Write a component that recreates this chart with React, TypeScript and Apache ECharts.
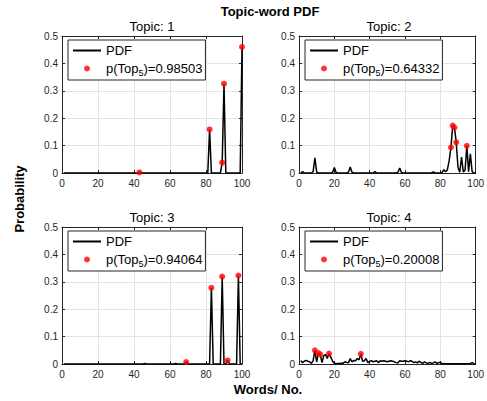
import { useEffect, useRef } from 'react';
import * as echarts from 'echarts';

// word numbers 1..100
const words: number[] = Array.from({ length: 100 }, (_, i) => i + 1);

const topic1: number[] = [
  0, 0, 0, 0, 0, 0, 0, 0, 0, 0,
  0, 0, 0, 0, 0, 0, 0, 0, 0, 0,
  0, 0, 0, 0, 0, 0, 0, 0, 0, 0,
  0, 0, 0, 0, 0, 0, 0, 0, 0, 0,
  0, 0, 0.002, 0, 0, 0, 0, 0, 0, 0,
  0, 0, 0, 0, 0, 0, 0, 0, 0, 0,
  0, 0, 0, 0, 0, 0, 0, 0, 0, 0,
  0, 0, 0, 0, 0, 0, 0, 0, 0, 0,
  0, 0.159, 0, 0, 0, 0, 0, 0, 0.038, 0.326,
  0, 0, 0, 0, 0, 0, 0, 0, 0, 0.46,
];

const topic2: number[] = [
  0, 0.005, 0, 0, 0, 0, 0, 0.005, 0.055, 0.003,
  0, 0, 0, 0, 0, 0, 0, 0, 0.002, 0.02,
  0.002, 0, 0, 0, 0, 0, 0, 0.003, 0.022, 0.003,
  0, 0, 0, 0, 0, 0, 0, 0, 0, 0,
  0, 0, 0.005, 0, 0, 0, 0, 0, 0, 0,
  0, 0, 0, 0, 0, 0.003, 0.018, 0.002, 0, 0,
  0, 0, 0, 0, 0, 0, 0, 0, 0, 0,
  0, 0, 0, 0, 0, 0.004, 0, 0, 0, 0,
  0.002, 0.012, 0.004, 0.012, 0.045, 0.093, 0.173, 0.166, 0.112, 0.02,
  0.003, 0.058, 0.004, 0.01, 0.099, 0.005, 0.07, 0.005, 0, 0,
];

const topic3: number[] = [
  0, 0, 0, 0, 0, 0, 0, 0, 0, 0,
  0, 0, 0, 0, 0, 0, 0, 0, 0, 0,
  0, 0, 0, 0, 0, 0, 0, 0, 0, 0,
  0, 0, 0, 0, 0, 0, 0, 0, 0, 0,
  0, 0, 0, 0, 0, 0.002, 0, 0, 0, 0,
  0, 0, 0, 0, 0, 0, 0, 0, 0, 0,
  0, 0, 0.002, 0, 0, 0, 0, 0, 0.007, 0,
  0, 0, 0, 0, 0, 0, 0, 0, 0, 0,
  0, 0, 0.278, 0, 0, 0, 0, 0, 0.319, 0,
  0, 0.013, 0, 0, 0, 0, 0, 0.323, 0, 0,
];

const topic4: number[] = [
  0.012, 0.005, 0.01, 0.013, 0.01, 0.008, 0.002, 0.012, 0.05, 0.008,
  0.04, 0.035, 0.005, 0.03, 0.035, 0.02, 0.038, 0.025, 0.01, 0.003,
  0.001, 0.002, 0.002, 0.003, 0.003, 0.008, 0.006, 0.004, 0.02, 0.008,
  0.013, 0.012, 0.02, 0.015, 0.037, 0.01, 0.012, 0.02, 0.005, 0.01,
  0.012, 0.008, 0.01, 0.012, 0.005, 0.012, 0.01, 0.012, 0.01, 0.008,
  0.01, 0.012, 0.01, 0.008, 0.005, 0.004, 0.012, 0.01, 0.01, 0.012,
  0.01, 0.008, 0.012, 0.01, 0.005, 0.008, 0.004, 0.01, 0.006, 0.002,
  0.008, 0.004, 0.002, 0.006, 0.002, 0.004, 0.008, 0.002, 0.005, 0.006,
  0.001, 0.001, 0.001, 0.001, 0.001, 0.001, 0.001, 0.001, 0.001, 0.001,
  0.001, 0.001, 0.001, 0.001, 0.001, 0.001, 0.001, 0.005, 0.001, 0,
];

const topics: number[][] = [topic1, topic2, topic3, topic4];
const topWords: number[][] = [
  [43, 82, 89, 90, 100],
  [86, 87, 88, 89, 95],
  [69, 83, 89, 92, 98],
  [9, 11, 12, 17, 35],
];
const topProbs: string[] = ['0.98503', '0.64332', '0.94064', '0.20008'];
const topicTitles: string[] = ['Topic: 1', 'Topic: 2', 'Topic: 3', 'Topic: 4'];
const xTicks = { min: 0, max: 100, interval: 20 };
const yTicks = { min: 0, max: 0.5, interval: 0.1 };

const FONT = "'Liberation Sans', Arial, Helvetica, sans-serif";
const AX = '#262626';

const gridPos = [
  { left: 62, top: 36 },
  { left: 299, top: 36 },
  { left: 62, top: 227 },
  { left: 299, top: 227 },
];
const GW = 180;
const GH = 137;

export default function App() {
  const ref = useRef<HTMLDivElement>(null);

  useEffect(() => {
    if (!ref.current) return;
    const chart = echarts.init(ref.current, undefined, { renderer: 'svg' });

    const grid: any[] = [];
    const xAxis: any[] = [];
    const yAxis: any[] = [];
    const series: any[] = [];
    const legend: any[] = [];
    const graphic: any[] = [];

    gridPos.forEach((g, i) => {
      grid.push({ left: g.left, top: g.top, width: GW, height: GH, show: false });
      const lineStyle = { color: AX, width: 1 };
      xAxis.push({
        type: 'value', gridIndex: i, position: 'bottom', ...xTicks,
        axisLine: { show: true, onZero: false, lineStyle },
        axisTick: { show: true, inside: true, length: 3, lineStyle },
        axisLabel: { color: AX, fontSize: 10, margin: 5, fontFamily: FONT },
        splitLine: { show: true, lineStyle: { color: '#e3e3e3', width: 1 } },
      });
      xAxis.push({
        type: 'value', gridIndex: i, position: 'top', ...xTicks,
        axisLine: { show: true, onZero: false, lineStyle },
        axisTick: { show: true, inside: true, length: 3, lineStyle },
        axisLabel: { show: false },
        splitLine: { show: false },
      });
      yAxis.push({
        type: 'value', gridIndex: i, position: 'left', ...yTicks,
        axisLine: { show: true, onZero: false, lineStyle },
        axisTick: { show: true, inside: true, length: 3, lineStyle },
        axisLabel: {
          color: AX, fontSize: 10, margin: 4, fontFamily: FONT,
          formatter: (v: number) => String(+v.toFixed(1)),
        },
        splitLine: { show: true, lineStyle: { color: '#e3e3e3', width: 1 } },
      });
      yAxis.push({
        type: 'value', gridIndex: i, position: 'right', ...yTicks,
        axisLine: { show: true, onZero: false, lineStyle },
        axisTick: { show: true, inside: true, length: 3, lineStyle },
        axisLabel: { show: false },
        splitLine: { show: false },
      });

      const values = topics[i];
      const pName = 'p(Top5)=' + topProbs[i];
      series.push({
        type: 'line', name: 'PDF', xAxisIndex: 2 * i, yAxisIndex: 2 * i,
        data: words.map((w, j) => [w, values[j]]),
        symbol: 'none', showSymbol: false,
        lineStyle: { color: '#000', width: 1.5 }, itemStyle: { color: '#000' },
        z: 2,
      });
      series.push({
        type: 'scatter', name: pName, xAxisIndex: 2 * i, yAxisIndex: 2 * i,
        data: topWords[i].map((w) => [w, values[w - 1]]),
        symbol: 'circle', symbolSize: 6,
        itemStyle: { color: '#ff0000' },
        z: 3,
      });

      legend.push({
        orient: 'vertical', left: g.left + 6, top: g.top + 4,
        data: [
          { name: 'PDF', itemStyle: { color: 'rgba(0,0,0,0)', borderColor: 'rgba(0,0,0,0)', borderWidth: 0, opacity: 0 } },
          { name: pName, icon: 'circle' },
        ],
        selectedMode: false,
        itemWidth: 28, itemHeight: 6, itemGap: 1,
        padding: [2, 3, 3, 4],
        backgroundColor: '#fff', borderColor: AX, borderWidth: 1, borderRadius: 0,
        formatter: (name: string) =>
          name === 'PDF'
            ? '{n|PDF}'
            : '{n|' + name.replace('Top5', 'Top}{sub|5}{n|') + '}',
        textStyle: {
          fontSize: 13, color: '#000', fontFamily: FONT, lineHeight: 17,
          rich: {
            n: { fontSize: 13, fontFamily: FONT, color: '#000', lineHeight: 17 },
            sub: { fontSize: 9, fontFamily: FONT, color: '#000', verticalAlign: 'bottom' },
          },
        },
      });

      graphic.push({
        type: 'text', x: g.left + GW / 2, y: g.top - 10,
        style: { text: topicTitles[i], fill: '#000', font: `13px ${FONT}`, textAlign: 'center', textVerticalAlign: 'middle' },
      });
    });

    graphic.push({
      type: 'text', x: 270, y: 11,
      style: { text: 'Topic-word PDF', fill: '#000', font: `bold 13px ${FONT}`, textAlign: 'center', textVerticalAlign: 'middle' },
    });
    graphic.push({
      type: 'text', x: 19, y: 199, rotation: Math.PI / 2,
      style: { text: 'Probability', fill: '#000', font: `bold 13px ${FONT}`, textAlign: 'center', textVerticalAlign: 'middle' },
    });
    graphic.push({
      type: 'text', x: 268, y: 389,
      style: { text: 'Words/ No.', fill: '#000', font: `bold 13px ${FONT}`, textAlign: 'center', textVerticalAlign: 'middle' },
    });

    chart.setOption({
      animation: false,
      backgroundColor: '#fff',
      grid, xAxis, yAxis, series, legend, graphic,
    });

    return () => chart.dispose();
  }, []);

  return (
    <div
      ref={ref}
      style={{ position: 'fixed', left: 0, top: 0, width: 487, height: 401, background: '#fff' }}
    />
  );
}
